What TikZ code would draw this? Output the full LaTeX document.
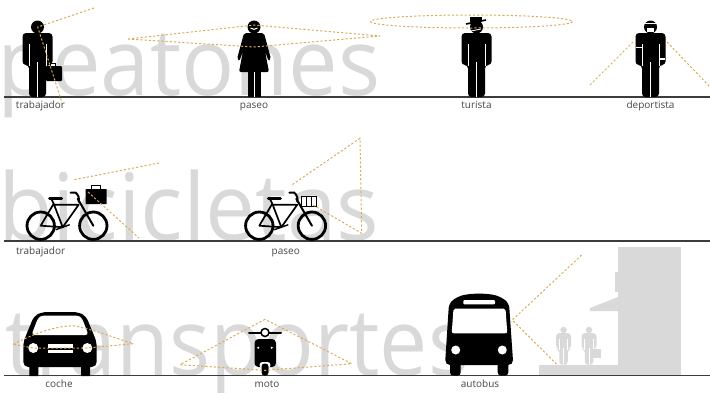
\documentclass[tikz,border=0pt]{standalone}
\usepackage{xcolor}
\usepackage{fontspec}
\setmainfont{Open Sans}
\usepackage{tikz}
\usetikzlibrary{positioning}
\definecolor{wordgray}{RGB}{217,217,217}
\definecolor{sightline}{RGB}{218,172,96}
\definecolor{groundline}{RGB}{60,60,60}
\definecolor{labelgray}{RGB}{70,70,70}
\tikzset{
  man/.pic={
    \fill[#1] (0,-70) circle (6.5);
    \fill[#1, rounded corners=3.5pt] (-15,-32) -- (-15,-64) -- (15,-64) -- (15,-32) -- (8.5,-32)
      -- (8.5,0) -- (-8.5,0) -- (-8.5,-32) -- cycle;
    \draw[white, line width=.8pt] (-8.5,-31) -- (-8.5,-53) (8.5,-31) -- (8.5,-53) (0,-35) -- (0,0);
  },
  woman/.pic={
    \fill[black] (0,-70) circle (6.5);
    \draw[white, line width=1pt] (-3.5,-69) to[bend right=40] (3.5,-69);
    \fill[black, rounded corners=2pt] (-10,-64) -- (10,-64) -- (17,-38) -- (14.5,-36) -- (11,-46)
      -- (15,-25) -- (-15,-25) -- (-11,-46) -- (-14.5,-36) -- (-17,-38) -- cycle;
    \fill[black] (-6.5,-26) rectangle (6.5,0);
    \draw[white, line width=.8pt] (0,-25) -- (0,0);
  },
  bike/.pic={
    \draw[line width=2.8pt] (0,0) circle (13.7) (52.6,0) circle (13.7);
    \draw[line width=1.7pt, line join=round] (0,0) -- (22,1.5) -- (13,-22) -- cycle
      (13,-21) -- (38,-21) -- (22,1.5) (13,-22) -- (11,-26);
    \draw[line width=2pt, line cap=round] (37,-27) -- (52.6,0);
    \draw[line width=2pt, line cap=round] (30,-33) -- (35,-33) to[bend left=30] (38,-24);
    \draw[line width=3pt, line cap=round] (9,-27) -- (21,-27);
    \draw[line width=1.4pt] (15,4) -- (29,-1);
  },
  bigword/.style={font=\fontsize{93}{93}\selectfont, text=wordgray, inner sep=0pt, anchor=base west},
  lab/.style={font=\fontsize{10}{10}\selectfont, text=labelgray, inner sep=0pt,
              text height=7pt, text depth=2pt},
  ground/.style={draw=groundline, line width=1.3pt},
  sight/.style={draw=sightline, line width=1pt, dash pattern=on 2.2pt off 2pt}
}

\begin{document}
\begin{tikzpicture}[x=1pt, y=-1pt]
\useasboundingbox (0,0) rectangle (710,392);
\clip (0,0) rectangle (710,392);

% Words behind the figures
\node[bigword, xscale=.95] (word1) at (-3,95) {peatones};
\node[bigword, xscale=.96] (word2) at (-2,240) {bicicletas};
\node[bigword, xscale=.923] (word3) at (5,375) {transportes};

% Bus stop
\fill[wordgray] (618,247) rectangle (681,375);
\fill[wordgray] (615,272) rectangle (619,292);
\fill[wordgray] (618,297) -- (590,308) -- (590,311) -- (619,311) -- cycle;
\fill[wordgray] (539,365) rectangle (619,375);
\pic[scale=.5] at (563.5,365) {man={wordgray}};
\pic[scale=.5] at (589,365) {man={wordgray}};
\fill[wordgray] (593,349) rectangle (601,358);

% Ground lines
\coordinate (g1l) at (4,97);
\coordinate (g1r) at (710,97);
\coordinate (g2l) at (4,241);
\coordinate (g2r) at (710,241);
\coordinate (g3l) at (4,375.5);
\coordinate (g3r) at (710,375.5);
\draw[ground] (g1l) -- (g1r);
\draw[ground] (g2l) -- (g2r);
\draw[ground] (g3l) -- (g3r);

% Row 1: pedestrians
\coordinate (worker) at (37.5,97);
\coordinate (walker) at (254,97);
\coordinate (tourist) at (476.5,97);
\coordinate (runner) at (650.5,97);
\pic at (worker) {man=black};
\fill[black, rounded corners=1pt] (46,66) rectangle (62,81);
\draw[black, line width=.8pt] (50,66) -- (50,63.5) -- (55,63.5) -- (55,66);
\pic at (walker) {woman};
\pic at (tourist) {man=black};
\fill[black] (470,17) rectangle (482,22);
\draw[black, line width=1.6pt] (466,24) -- (486,20);
\draw[white, line width=.8pt] (471,31) -- (481,29);
\pic at (runner) {man=black};
\draw[white, line width=1pt] (644.5,23.5) -- (656.5,23.5);
\fill[white] (647,28) rectangle (654,31.5);
\draw[white, line width=1.5pt] (636,47.5) -- (643,47.5) (659,59) -- (665,59);

% Row 2: bicycles
\coordinate (bike1) at (40.7,225.7);
\coordinate (bike2) at (259.3,225.7);
\pic at (bike1) {bike};
\pic at (bike2) {bike};
\fill[black, rounded corners=.5pt] (85.7,189) rectangle (106.7,204);
\draw[black, line width=.8pt] (91,189) -- (91,185.5) -- (100,185.5) -- (100,189);
\draw[black, line width=.7pt] (301.7,196) rectangle (316.7,206.5) (306.5,196) -- (306.5,206.5) (311.5,196) -- (311.5,206.5);

% Row 3: car
\fill[black, rounded corners=5pt] (23.3,367) -- (23.3,342) -- (34,316) -- (42,312) -- (78,312)
  -- (86,316) -- (96.7,342) -- (96.7,367) -- cycle;
\fill[black] (29.3,360) rectangle (38.3,376) (81,360) rectangle (90,376);
\fill[white, rounded corners=3pt] (31.5,335) -- (38,318) -- (42,315.5) -- (78,315.5) -- (82,318) -- (88.5,335) -- cycle;
\fill[white] (33.3,348) circle (5) (87.3,348) circle (5);
\fill[white] (47.7,344) rectangle (73.3,353);
\fill[black] (47.7,347.5) rectangle (73.3,349.5);

% Row 3: scooter
\draw[black, line width=2pt, line cap=round] (249,332.5) -- (281,332.5);
\draw[black, fill=white, line width=1.5pt] (265,332.5) circle (4);
\fill[black, rounded corners=4pt] (254.5,339) rectangle (276,367);
\fill[white] (258.3,347.7) circle (1.1) (271.7,347.7) circle (1.1);
\fill[white, rounded corners=3pt] (259.5,368) -- (259.5,362) -- (270.5,362) -- (270.5,368) -- cycle;
\fill[black, rounded corners=3pt] (261.5,375.5) rectangle (268.5,363.5);

% Row 3: bus
\fill[black, rounded corners=5pt] (445,365) -- (449,303) -- (457,297) .. controls (470,293) and (488,293) .. (501,297)
  -- (509,303) -- (513.3,365) -- cycle;
\fill[black, rounded corners=3pt] (450,360) rectangle (460.7,375.5) (497.7,360) rectangle (508.3,375.5);
\fill[white, rounded corners=2pt] (451.7,333.3) -- (453.5,308.5) -- (505.5,308.5) -- (507.3,333.3) -- cycle;
\fill[white, rounded corners=1pt] (463.3,300) rectangle (495,304.3);
\fill[white] (455.7,350) circle (4.5) (502.3,350) circle (4.5);

% Labels
\node[lab, below=4.5pt of worker, xshift=3pt] (lab1) {trabajador};
\node[lab, below=4.5pt of walker] (lab2) {paseo};
\node[lab, below=4.5pt of tourist] (lab3) {turista};
\node[lab, below=4.5pt of runner] (lab4) {deportista};
\node[lab, below=6pt of bike1 |- g2l, xshift=0pt] (lab5) {trabajador};
\node[lab, below=6pt of bike2 |- g2l, xshift=26.5pt] (lab6) {paseo};
\node[lab, below=5pt of g3l, xshift=55pt] (lab7) {coche};
\node[lab, below=5pt of g3l, xshift=263pt] (lab8) {moto};
\node[lab, below=5pt of g3l, xshift=476pt] (lab9) {autobus};

% Sight lines
\draw[sight] (94,8) -- (37.7,27) -- (61.7,101.7);
\draw[sight] (128,39) -- (254,25) -- (380,36) -- (254,47) -- cycle;
\draw[sight] (471.5,21.5) ellipse (101 and 6.5);
\draw[sight] (590,85) -- (633,42);
\draw[sight] (667,42) -- (710,87);
\draw[sight] (159,163) -- (72.7,180);
\draw[sight] (88,192) -- (139,238);
\draw[sight] (313,205) -- (361.7,233.3) -- (360,138.3) -- (291.7,185);
\draw[sight] (13.3,344.3) .. controls (35,333) and (58,325) .. (75,326) .. controls (95,330) and (115,338) .. (133.3,343.7)
  -- (86.7,348) -- (33,348) -- cycle;
\draw[sight] (265,319.3) -- (180,364.7) -- (265,370.3) -- (351.7,363.7) -- cycle;
\draw[sight] (581.7,255) -- (512.3,320) -- (557.3,365);
\end{tikzpicture}
\end{document}
